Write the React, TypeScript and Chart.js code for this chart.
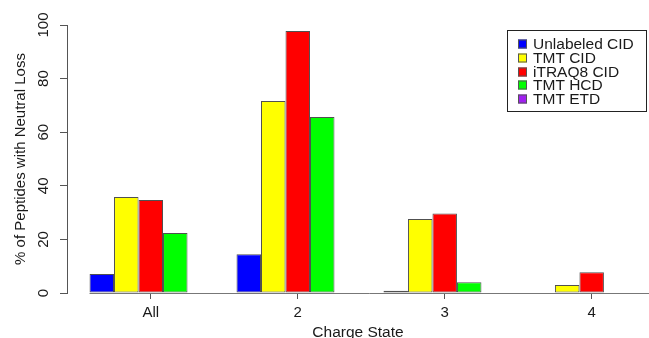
import React, { useEffect, useRef } from "react";
import { Chart, registerables } from "chart.js";

Chart.register(...registerables);

// ---- data ----
const categories = ["All", "2", "3", "4"];
const seriesNames = ["Unlabeled CID", "TMT CID", "iTRAQ8 CID", "TMT HCD", "TMT ETD"];
const unlabeledCID = [7.1, 14.5, 0.8, 0];
const tmtCID = [35.8, 71.6, 27.6, 3.0];
const itraq8CID = [34.7, 97.8, 29.7, 7.7];
const tmtHCD = [22.4, 65.7, 4.0, 0];
const tmtETD = [0, 0, 0, 0];
const yTicks = [0, 20, 40, 60, 80, 100];
const seriesColors = ["#0000FF", "#FFFF00", "#FF0000", "#00FF00", "#A020F0"];

const xTitle = "Charge State";
const yTitle = "% of Peptides with Neutral Loss";

// R barplot-like unit layout: each group = 5 bars + 1 gap
const GROUP_SPAN = 6;
const groupCenter = (i: number) => GROUP_SPAN * i + 3.5;

const FONT = "'Liberation Sans', Arial, Helvetica, sans-serif";
const TEXT = "#1a1a1a";
const AXIS = "#555555";

const baselinePlugin = {
  id: "rBaseline",
  beforeDatasetsDraw(chart: any) {
    const meta = chart.getDatasetMeta(0);
    const el = meta.data[0];
    if (!el) return;
    const left = el.x - el.width / 2;
    const y = Math.round(chart.scales.y.getPixelForValue(0)) + 0.5;
    const ctx = chart.ctx;
    ctx.save();
    ctx.strokeStyle = "#777777";
    ctx.lineWidth = 1;
    ctx.beginPath();
    ctx.moveTo(left, y);
    ctx.lineTo(chart.chartArea.right, y);
    ctx.stroke();
    ctx.restore();
  },
};

const legendPlugin = {
  id: "rLegend",
  afterDraw(chart: any, _args: any, opts: any) {
    const ctx = chart.ctx;
    const { left, top, width, height, rowHeight, pad, box, gap, fontSize } = opts;
    ctx.save();
    ctx.fillStyle = "#ffffff";
    ctx.fillRect(left, top, width, height);
    ctx.strokeStyle = "#222222";
    ctx.lineWidth = 1;
    ctx.strokeRect(left + 0.5, top + 0.5, width, height);
    ctx.font = `${fontSize}px ${FONT}`;
    ctx.textBaseline = "middle";
    ctx.textAlign = "left";
    chart.data.datasets.forEach((ds: any, i: number) => {
      const cy = Math.round(top + pad + rowHeight * i + rowHeight / 2);
      const bx = left + 11;
      ctx.fillStyle = ds.backgroundColor;
      ctx.fillRect(bx, cy - box / 2, box, box);
      ctx.strokeStyle = "#555555";
      ctx.strokeRect(bx + 0.5, cy - box / 2 + 0.5, box - 1, box - 1);
      ctx.fillStyle = TEXT;
      ctx.fillText(ds.label, bx + box + gap, cy + 0.5);
    });
    ctx.restore();
  },
};

export default function App() {
  const ref = useRef<HTMLCanvasElement>(null);

  useEffect(() => {
    if (!ref.current) return;
    const seriesValues = [unlabeledCID, tmtCID, itraq8CID, tmtHCD, tmtETD];
    const chart = new Chart(ref.current, {
      type: "bar",
      data: {
        datasets: seriesNames.map((name, s) => ({
          label: name,
          data: seriesValues[s].map((v, i) => ({ x: groupCenter(i), y: v })),
          backgroundColor: seriesColors[s],
          borderColor: "#505050",
          borderWidth: 1,
          borderSkipped: false,
          categoryPercentage: 5 / 6,
          barPercentage: 1,
        })),
      },
      options: {
        responsive: false,
        animation: false,
        layout: { padding: { top: 25, right: 0, left: 0, bottom: 0 } },
        plugins: {
          legend: { display: false },
          tooltip: { enabled: false },
          rLegend: {
            left: 507,
            top: 30,
            width: 139,
            height: 81,
            rowHeight: 13.7,
            pad: 7.5,
            box: 9,
            gap: 6,
            fontSize: 15.5,
          },
        } as any,
        scales: {
          x: {
            type: "linear",
            min: 0.08,
            max: 23.84,
            offset: false,
            afterBuildTicks: (s: any) => {
              s.ticks = categories.map((_, i) => ({ value: groupCenter(i) }));
            },
            afterFit: (s: any) => {
              s.height = 45;
            },
            ticks: {
              callback: (_v: any, i: number) => categories[i],
              autoSkip: false,
              maxRotation: 0,
              padding: 5,
              color: TEXT,
              font: { family: FONT, size: 15 },
            },
            grid: {
              display: true,
              offset: false,
              drawOnChartArea: false,
              drawTicks: true,
              tickLength: 6,
              color: AXIS,
            },
            border: { display: false },
            title: {
              display: true,
              text: xTitle,
              color: TEXT,
              font: { family: FONT, size: 15.5 },
              padding: { top: 0, bottom: -4 },
            },
          },
          y: {
            type: "linear",
            min: 0,
            max: 100,
            afterBuildTicks: (s: any) => {
              s.ticks = yTicks.map((v) => ({ value: v }));
            },
            afterFit: (s: any) => {
              s.width = 67;
            },
            ticks: {
              minRotation: 90,
              maxRotation: 90,
              crossAlign: "center",
              padding: 4,
              color: TEXT,
              font: { family: FONT, size: 15 },
            },
            grid: {
              display: true,
              drawOnChartArea: false,
              drawTicks: true,
              tickLength: 7,
              color: AXIS,
            },
            border: { display: true, color: AXIS },
            title: {
              display: true,
              text: yTitle,
              color: TEXT,
              font: { family: FONT, size: 15 },
              padding: { top: 12, bottom: 0 },
            },
          },
        },
      } as any,
      plugins: [baselinePlugin, legendPlugin],
    });
    return () => chart.destroy();
  }, []);

  return (
    <div style={{ position: "absolute", left: 0, top: 0, width: 649, height: 338, overflow: "hidden", background: "#fff" }}>
      <canvas ref={ref} width={649} height={338} style={{ display: "block" }} />
    </div>
  );
}
